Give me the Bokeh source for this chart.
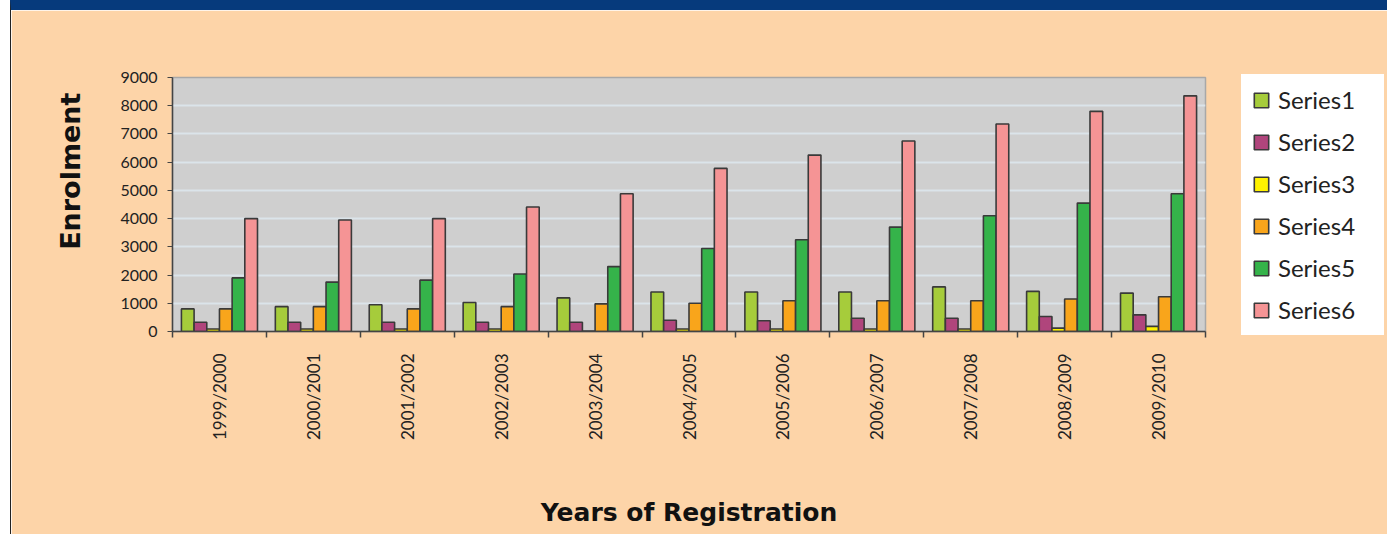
import math
from bokeh.plotting import figure
from bokeh.models import ColumnDataSource, FixedTicker, Legend, LegendItem, Title, Range1d
from bokeh.transform import dodge
from bokeh.embed import file_html
from bokeh.resources import INLINE

years = ["1999/2000", "2000/2001", "2001/2002", "2002/2003", "2003/2004", "2004/2005",
         "2005/2006", "2006/2007", "2007/2008", "2008/2009", "2009/2010"]
series_names = ["Series1", "Series2", "Series3", "Series4", "Series5", "Series6"]
series1 = [800, 880, 950, 1030, 1190, 1400, 1400, 1400, 1580, 1420, 1360]
series2 = [330, 330, 330, 330, 330, 400, 380, 470, 470, 530, 590]
series3 = [90, 90, 90, 90, 20, 90, 90, 90, 90, 120, 180]
series4 = [800, 880, 800, 880, 980, 1000, 1090, 1090, 1090, 1150, 1230]
series5 = [1900, 1750, 1820, 2040, 2300, 2940, 3250, 3700, 4100, 4550, 4880]
series6 = [4000, 3950, 4000, 4410, 4880, 5780, 6250, 6750, 7350, 7800, 8350]
colors = ["#a6cc3b", "#b0457c", "#fff200", "#f9a51b", "#35b34a", "#f59495"]

PEACH = "#fdd4a8"

xc = [i + 0.5 for i in range(len(years))]
src = ColumnDataSource(dict(xc=xc, s1=series1, s2=series2, s3=series3,
                            s4=series4, s5=series5, s6=series6))

p = figure(width=1360, height=524, frame_width=1033, frame_height=254,
           min_border_left=161, min_border_right=166,
           min_border_top=67, min_border_bottom=203,
           x_range=Range1d(0, len(years)), y_range=Range1d(0, 9000),
           output_backend="svg", toolbar_location=None, tools="",
           styles={"border-top": "10px solid #063a7c", "border-left": "1px solid #222222",
                   "margin-left": "10px"})
p.background_fill_color = "#cfcfcf"
p.border_fill_color = PEACH
p.outline_line_color = "#a8a8a8"
p.outline_line_width = 1.5

bw = 0.135
renderers = []
for k, col in enumerate(["s1", "s2", "s3", "s4", "s5", "s6"]):
    r = p.vbar(x=dodge("xc", (k - 2.5) * bw, range=p.x_range), top=col, bottom=0,
               width=bw, source=src, fill_color=colors[k],
               line_color="#3a3a3a", line_width=1.6)
    renderers.append(r)

# grid
p.xgrid.visible = False
p.ygrid.grid_line_color = "#dbe4ea"
p.ygrid.grid_line_width = 2
p.ygrid.ticker = FixedTicker(ticks=list(range(0, 9001, 1000)))

# y axis
p.yaxis.ticker = FixedTicker(ticks=list(range(0, 9001, 1000)))
p.yaxis.major_label_text_font = "Lato"
p.yaxis.major_label_text_font_size = "16px"
p.yaxis.major_label_text_color = "#222222"
p.yaxis.major_tick_out = 5
p.yaxis.major_tick_in = 0
p.yaxis.minor_tick_line_color = None
p.yaxis.major_label_standoff = 10
p.yaxis.axis_line_color = "#444444"
p.yaxis.axis_line_width = 1.5
p.yaxis.major_tick_line_color = "#444444"

# x axis: labels at group centers, ticks at group boundaries
p.xaxis.ticker = FixedTicker(ticks=xc, minor_ticks=list(range(len(years) + 1)))
p.xaxis.major_label_overrides = {x: y for x, y in zip(xc, years)}
p.xaxis.major_label_orientation = math.pi / 2
p.xaxis.major_label_text_font = "Lato"
p.xaxis.major_label_text_font_size = "17px"
p.xaxis.major_label_text_color = "#222222"
p.xaxis.major_tick_out = 0
p.xaxis.major_tick_in = 0
p.xaxis.minor_tick_out = 6
p.xaxis.minor_tick_in = 0
p.xaxis.minor_tick_line_color = "#444444"
p.xaxis.minor_tick_line_width = 1.5
p.xaxis.major_label_standoff = 16
p.xaxis.axis_line_color = "#444444"
p.xaxis.axis_line_width = 1.5
p.xaxis.axis_label = "Years of Registration"
p.xaxis.axis_label_text_font = "DejaVu Sans"
p.xaxis.axis_label_text_font_size = "25px"
p.xaxis.axis_label_text_font_style = "bold"
p.xaxis.axis_label_text_color = "#111111"
p.xaxis.axis_label_standoff = 55

p.add_layout(Title(text="Enrolment", align="right", offset=15, vertical_align="middle",
                   standoff=62, text_font="DejaVu Sans", text_font_size="27px",
                   text_font_style="bold", text_color="#111111"), "left")

items = [LegendItem(label=n, renderers=[r]) for n, r in zip(series_names, renderers)]
legend = Legend(items=items, location=(36, -4), orientation="vertical", margin=0,
                label_text_font="Lato", label_text_font_size="24px",
                label_text_color="#222222",
                glyph_width=18, glyph_height=18, label_height=29, spacing=13,
                padding=10, label_standoff=8, label_width=95,
                background_fill_color="white", background_fill_alpha=1.0,
                border_line_color="white", border_line_width=1)
p.add_layout(legend, "right")

open("out.html", "w").write(file_html(p, INLINE))
